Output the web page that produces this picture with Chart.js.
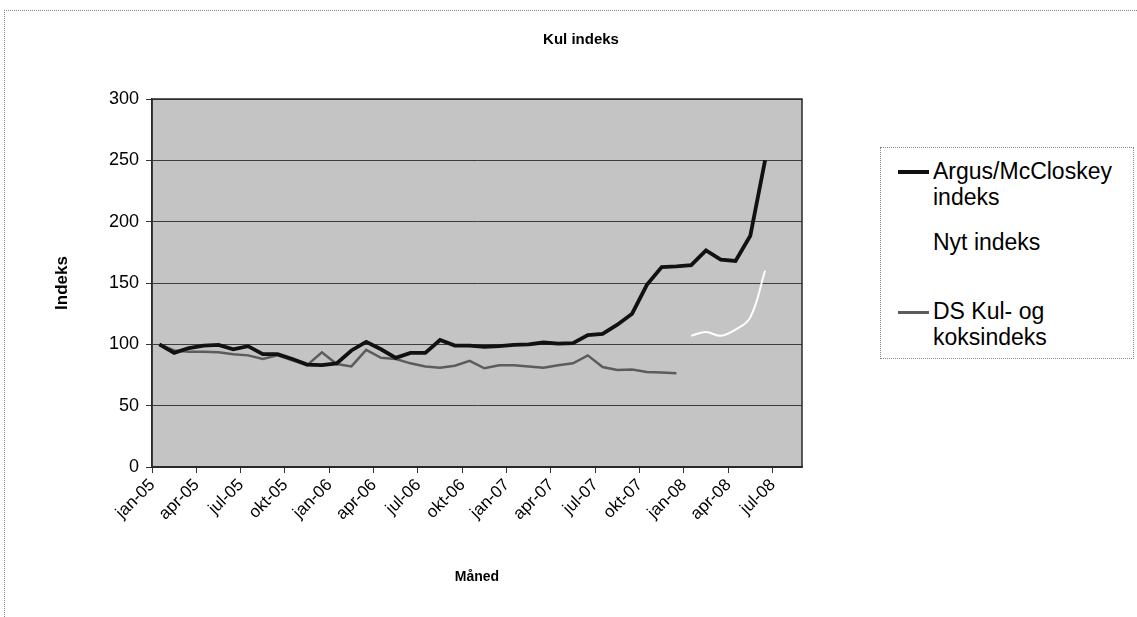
<!DOCTYPE html>
<html>
<head>
<meta charset="utf-8">
<script src="https://cdn.jsdelivr.net/npm/chart.js@4.4.1/dist/chart.umd.min.js"></script>
<style>
    html, body { margin: 0; padding: 0; background: #fff; }
    body { width: 1137px; height: 617px; position: relative; overflow: hidden; font-family: "Liberation Sans", Arial, sans-serif; }
    #frame { position: absolute; left: 4px; top: 10px; right: 0; bottom: 0; border-top: 1px dotted #888; border-left: 1px dotted #888; }
    #wrap { position: absolute; left: 0; top: 0; width: 1137px; height: 617px; }
    #legend { position: absolute; left: 880px; top: 147px; width: 254px; height: 212px; border: 1px dotted #888; background: #fff; box-sizing: border-box; }
    .item { position: absolute; left: 17px; font-size: 23px; line-height: 26px; color: #000; }
    .item .sample { position: absolute; left: 0; width: 31px; }
    .item .text { margin-left: 35px; display: block; }
</style>
</head>
<body>
<div id="frame"></div>
<div id="wrap"><canvas id="chart" width="1137" height="617"></canvas></div>
<div id="legend"></div>
<script>
// months jan-05 .. aug-08
const months = ['jan', 'feb', 'mar', 'apr', 'maj', 'jun', 'jul', 'aug', 'sep', 'okt', 'nov', 'dec'];
const categories = [];
for (let y = 5; y <= 8; y++) {
    months.forEach((m, i) => { if (y < 8 || i < 8) categories.push(m + '-0' + y); });
}

const argusValues = [100, 93, 97, 99, 99.5, 96, 98.5, 92, 92, 88, 83.5, 83, 84.5, 95, 102, 96, 89, 93, 93, 103.5,
    99, 99, 98, 98.5, 99.5, 100, 101.5, 100.5, 101, 107.5, 108.5, 116, 125, 148.5, 163, 163.5, 164.5, 176.5, 169, 168, 188.5, 250];
const nytValues = [null, null, null, null, null, null, null, null, null, null, null, null, null, null, null, null, null, null,
    null, null, null, null, null, null, null, null, null, null, null, null, null, null, null, null, null, null,
    107, 110, 107, 112, 122, 160];
const dsValues = [100, 95, 94, 94, 93.5, 92, 91, 88, 91, 87, 83, 93.5, 84, 82, 95.5, 89, 88, 84.5, 82, 81,
    82.5, 86.5, 80.5, 83, 83, 82, 81, 83, 84.5, 91, 81.5, 79, 79.5, 77.5, 77, 76.5];
const yTicks = [0, 50, 100, 150, 200, 250, 300];

const seriesNames = ['Argus/McCloskey indeks', 'Nyt indeks', 'DS Kul- og koksindeks'];
const seriesColors = ['#111111', '#ffffff', '#5c5c5c'];
const seriesWidths = [3.8, 2, 2.5];

const FONT = '"Liberation Sans", Arial, sans-serif';

// plot area background, border and chart title
const plotDecor = {
    id: 'plotDecor',
    beforeDraw(chart) {
        const { ctx, chartArea: a } = chart;
        ctx.save();
        ctx.fillStyle = '#c4c4c4';
        ctx.fillRect(a.left, a.top, a.right - a.left, a.bottom - a.top);
        ctx.restore();
    },
    afterDraw(chart) {
        const { ctx, chartArea: a } = chart;
        ctx.save();
        ctx.strokeStyle = '#2a2a2a';
        ctx.lineWidth = 1.5;
        ctx.strokeRect(a.left, a.top, a.right - a.left, a.bottom - a.top);
        ctx.fillStyle = '#000';
        ctx.font = 'bold 15px ' + FONT;
        ctx.textAlign = 'center';
        ctx.textBaseline = 'middle';
        ctx.fillText('Kul indeks', 581, 40);
        ctx.restore();
    }
};

const everyThird = (ctx) => (ctx.index % 3 === 0 ? '#333' : 'rgba(0,0,0,0)');

const chart = new Chart(document.getElementById('chart'), {
    type: 'line',
    data: {
        labels: categories,
        datasets: [argusValues, nytValues, dsValues].map((vals, i) => ({
            label: seriesNames[i],
            data: vals,
            borderColor: seriesColors[i],
            backgroundColor: seriesColors[i],
            borderWidth: seriesWidths[i],
            pointRadius: 0,
            tension: i === 1 ? 0.4 : 0,
            spanGaps: false
        }))
    },
    options: {
        responsive: false,
        animation: false,
        layout: { padding: { left: 0, right: 335, top: 99, bottom: 0 } },
        plugins: {
            legend: { display: false },
            title: { display: false },
            tooltip: { enabled: false }
        },
        scales: {
            x: {
                type: 'category',
                offset: true,
                afterFit: (s) => { s.height = 150; },
                grid: {
                    offset: true,
                    drawOnChartArea: false,
                    tickLength: 6,
                    color: everyThird,
                    tickColor: everyThird
                },
                border: { display: true, color: '#2a2a2a', width: 1.5 },
                ticks: {
                    autoSkip: false,
                    minRotation: 45,
                    maxRotation: 45,
                    labelOffset: -7,
                    padding: 2,
                    color: '#000',
                    font: { family: FONT, size: 17 },
                    callback: (v, i) => (i % 3 === 0 ? categories[i] : '')
                },
                title: {
                    display: true,
                    text: 'Måned',
                    color: '#000',
                    font: { family: FONT, size: 14, weight: 'bold' },
                    padding: { top: 0, bottom: 31 }
                }
            },
            y: {
                min: 0,
                max: 300,
                afterFit: (s) => { s.width = 152; },
                afterBuildTicks: (s) => { s.ticks = yTicks.map(v => ({ value: v })); },
                grid: { color: '#3c3c3c', lineWidth: 1, tickLength: 6, tickColor: '#333' },
                border: { display: true, color: '#2a2a2a', width: 1.5 },
                ticks: {
                    padding: 7,
                    color: '#000',
                    font: { family: FONT, size: 18 }
                },
                title: {
                    display: true,
                    text: 'Indeks',
                    color: '#000',
                    font: { family: FONT, size: 17, weight: 'bold' },
                    padding: { top: 52, bottom: 0 }
                }
            }
        }
    },
    plugins: [plotDecor]
});

// legend, wrapped like the original
const legendLayout = [
    { lines: ['Argus/McCloskey', 'indeks'], top: 10, sampleTop: 22 },
    { lines: ['Nyt indeks'], top: 81, sampleTop: 94 },
    { lines: ['DS Kul- og', 'koksindeks'], top: 150, sampleTop: 163 }
];
const legendBox = document.getElementById('legend');
chart.data.datasets.forEach((ds, i) => {
    const l = legendLayout[i];
    const item = document.createElement('div');
    item.className = 'item';
    item.style.top = l.top + 'px';
    const sample = document.createElement('div');
    sample.className = 'sample';
    sample.style.top = (l.sampleTop - l.top) + 'px';
    sample.style.height = ds.borderWidth + 'px';
    sample.style.background = ds.borderColor;
    const text = document.createElement('span');
    text.className = 'text';
    text.innerHTML = l.lines.join('<br>');
    item.appendChild(sample);
    item.appendChild(text);
    legendBox.appendChild(item);
});
</script>
</body>
</html>
